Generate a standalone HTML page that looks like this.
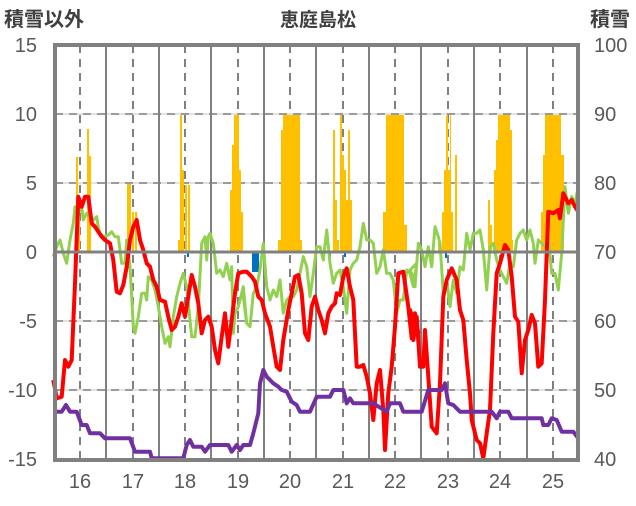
<!DOCTYPE html>
<html><head><meta charset="utf-8"><style>
body{margin:0;background:#fff}
svg text{font-family:"Liberation Sans","Noto Sans CJK JP",sans-serif;fill:#595959}
</style></head><body>
<svg id="s" width="636" height="501" xmlns="http://www.w3.org/2000/svg">
<rect width="636" height="501" fill="#fff"/>
<g id="grid"></g>
<g id="bars"></g>
<g id="lines"></g>
<rect x="55" y="45" width="523" height="415" fill="none" stroke="#808080" stroke-width="4"/>
<line x1="55" y1="252" x2="578" y2="252" stroke="#808080" stroke-width="3"/>
<text x="4" y="26" font-size="20" font-weight="bold" style="fill:#404040">積雪以外</text>
<text x="318" y="26" font-size="19" font-weight="bold" text-anchor="middle" style="fill:#404040">恵庭島松</text>
<text x="590" y="26" font-size="20" font-weight="bold" style="fill:#404040">積雪</text>
<g font-size="20" text-anchor="end">
<text x="37" y="52">15</text><text x="37" y="121">10</text><text x="37" y="190">5</text><text x="37" y="259">0</text><text x="37" y="328">-5</text><text x="37" y="397">-10</text><text x="37" y="466">-15</text>
</g>
<g font-size="20">
<text x="594" y="52">100</text><text x="594" y="121">90</text><text x="594" y="190">80</text><text x="594" y="259">70</text><text x="594" y="328">60</text><text x="594" y="397">50</text><text x="594" y="466">40</text>
</g>
<g font-size="20" text-anchor="middle">
<text x="80" y="488">16</text><text x="133" y="488">17</text><text x="185" y="488">18</text><text x="238" y="488">19</text><text x="290" y="488">20</text><text x="343" y="488">21</text><text x="395" y="488">22</text><text x="448" y="488">23</text><text x="500" y="488">24</text><text x="553" y="488">25</text>
</g>
</svg>
<script>
var NS="http://www.w3.org/2000/svg";
function el(p,t,a){var e=document.createElementNS(NS,t);for(var k in a)e.setAttribute(k,a[k]);document.getElementById(p).appendChild(e);}
[114,183,321,390].forEach(function(y){el("grid","line",{x1:55,x2:578,y1:y,y2:y,stroke:"#d9d9d9","stroke-width":1.5});el("grid","line",{x1:55,x2:578,y1:y,y2:y,stroke:"#808080","stroke-width":1.5,"stroke-dasharray":"8,6"});});
[106,159,211,264,316,369,421,474,527].forEach(function(x){el("grid","line",{x1:x,x2:x,y1:45,y2:460,stroke:"#808080","stroke-width":2});});
[80,133,185,238,290,343,395,448,500,553].forEach(function(x){el("grid","line",{x1:x,x2:x,y1:45,y2:460,stroke:"#808080","stroke-width":2,"stroke-dasharray":"8,6"});});
var bars=[[76,78,157],[78,80,215],[87,89,129],[89,91,156],[127,131,184],[132,134,212],[135,137,212],
[178,180,240],[180,182,115],[182,184,170],[185,187,185],[188,190,185],[230,232,190],[232,234,145],[234,239,115],[239,241,170],[241,243,212],
[278,281,240],[281,283,130],[283,300,115],[300,302,240],[333,335,130],[335,337,200],[337,339,240],[340,342,115],[342,344,155],[344,346,170],[346,348,200],[348,350,130],[350,352,200],
[383,386,212],[386,404,115],[404,407,225],[438,440,240],[442,444,212],[444,446,170],[446,448,115],[448,450,170],[450,451,115],[451,453,212],[455,457,155],
[488,490,200],[490,492,225],[494,496,170],[496,498,140],[498,510,115],[510,512,130],[512,513,240],[541,543,212],[543,545,155],[545,561,115],[561,564,155]];
bars.forEach(function(b){el("bars","rect",{x:b[0],y:b[2],width:b[1]-b[0],height:252-b[2],fill:"#ffc000"});});
[[187,189,257],[252,259,272],[262,264,258],[329,331,257],[344,346,257],[445,447,258]].forEach(function(b){el("bars","rect",{x:b[0],y:252,width:b[1]-b[0],height:b[2]-252,fill:"#0070c0"});});
function seg(ox,d){var r=[];for(var i=0;i<d.length;i+=2)r.push((ox+d[i]/3).toFixed(1)+","+(100+d[i+1]/3).toFixed(1));return r;}
var G=[].concat(
seg(50,[10,470,20,440,30,420,40,460,50,490,60,420,70,370,75,320,85,340,95,320,100,360,110,340,120,350,130,360,140,350,145,380,150,400,160,410,175,405,185,395,195,410,205,410,215,490,225,490,230,420,240,500,250,680,255,700,265,650,275,580,285,580,290,600,295,530,305,540,315,570,325,620,335,680,345,730,355,710,360,740,370,650,380,590,390,550,400,520,410,560,420,660,425,710,435,710,445,620,455,430,465,410,470,480,475,410,480,400,490,430,500,520,510,510,520,530,530,490,540,540,545,500,550,700,555,640,565,620,580,560,590,670]),
seg(240,[10,590,20,670,30,680,40,580,50,560,60,510,70,430,80,560,90,600,100,570,110,590,120,540,130,640,140,600,150,590,160,590,170,570,180,520,190,470,200,500,210,590,220,520,230,440,240,440,250,480,260,390,270,490,280,550,290,520,300,510,310,560,320,640,330,510,340,490,350,480,360,440,370,370,380,420,390,420,400,430,410,520,420,500,430,450,440,520,450,520,460,540,470,640,480,600,490,600,500,510,510,520,520,560,530,490]),
seg(410,[0,510,10,530,15,560,25,430,35,450,45,500,55,440,65,500,75,380,85,410,90,430,100,580,110,540,120,620,130,540,140,580,150,500,160,510,170,400,180,450,190,400,200,400,210,390,220,450,230,570,240,440,250,430,260,480,270,510,280,530,290,550,300,490,310,500,320,420,330,400,340,390,350,420,360,390,370,430,375,490,385,420,395,430,405,440,415,410,425,520,435,520,445,570,455,460,465,260,475,340,485,290,495,310,505,260]));
var R=[].concat(
seg(50,[10,840,20,895,35,890,45,780,55,800,65,780,75,550,85,290,95,320,105,290,115,290,125,370,135,380,145,395,155,410,165,420,180,430,190,480,200,575,210,580,220,555,230,500,240,420,250,380,260,360,270,420,280,450,290,490,300,500,310,540,320,560,330,600,345,605,355,650,365,690,375,680,385,650,395,610,405,650,415,590,425,525,435,560,445,610,455,700,465,660,475,650,485,680,495,750,505,790,515,710,525,640,535,740,545,660,555,580,565,520,580,515]),
seg(240,[20,515,35,530,45,545,55,590,65,600,75,640,90,680,100,740,110,800,120,810,130,720,145,630,155,580,165,530,175,525,185,580,195,700,205,720,215,620,225,590,235,630,245,660,255,700,265,640,275,620,285,610,290,580,300,585,310,530,320,505,330,560,340,600,350,800,360,800,370,795,380,830,390,880,400,960,410,850,420,810,430,930,435,1050,445,880,455,800,465,680,475,520,490,515,505,620,515,715,525,640,535,700]),
seg(410,[0,630,10,720,20,650,30,800,40,800,45,690,55,830,65,980,80,1000,90,850,100,590,110,540,125,505,140,540,150,630,160,660,170,780,180,880,185,960,200,1020,210,1030,220,1075,230,1000,240,930,250,700,260,520,270,490,285,435,295,450,305,530,315,650,325,665,335,820,345,720,355,690,365,645,375,670,385,800,395,790,405,600,415,335,430,340,445,330,450,355,460,280,475,310,485,300,495,320,505,335]));
var P=[].concat(
seg(50,[10,935,35,935,48,915,60,935,80,935,95,975,110,975,120,1000,150,1000,165,1015,240,1015,255,1055,300,1055,305,1075,400,1075,410,1035,420,1020,430,1040,455,1040,465,1055,480,1035,535,1035,545,1055,560,1035,570,1050,580,1035]),
seg(240,[10,1035,30,1035,40,1000,55,940,60,850,70,810,80,830,100,850,115,860,125,870,140,875,155,905,170,915,180,935,210,935,230,890,270,890,280,870,310,870,320,910,330,895,340,910,400,910,440,935,450,910,480,910,490,935,540,935]),
seg(410,[35,935,55,870,95,870,105,850,115,910,130,915,150,935,245,935,260,955,270,935,295,935,305,955,395,955,400,975,415,975,425,955,440,960,455,995,490,995,505,1015]));
el("lines","polyline",{points:G.join(" "),fill:"none",stroke:"#92d050","stroke-width":3,"stroke-linejoin":"round"});
el("lines","polyline",{points:R.join(" "),fill:"none",stroke:"#ff0000","stroke-width":4,"stroke-linejoin":"round"});
el("lines","polyline",{points:P.join(" "),fill:"none",stroke:"#7030a0","stroke-width":4,"stroke-linejoin":"round"});
</script>
</body></html>
